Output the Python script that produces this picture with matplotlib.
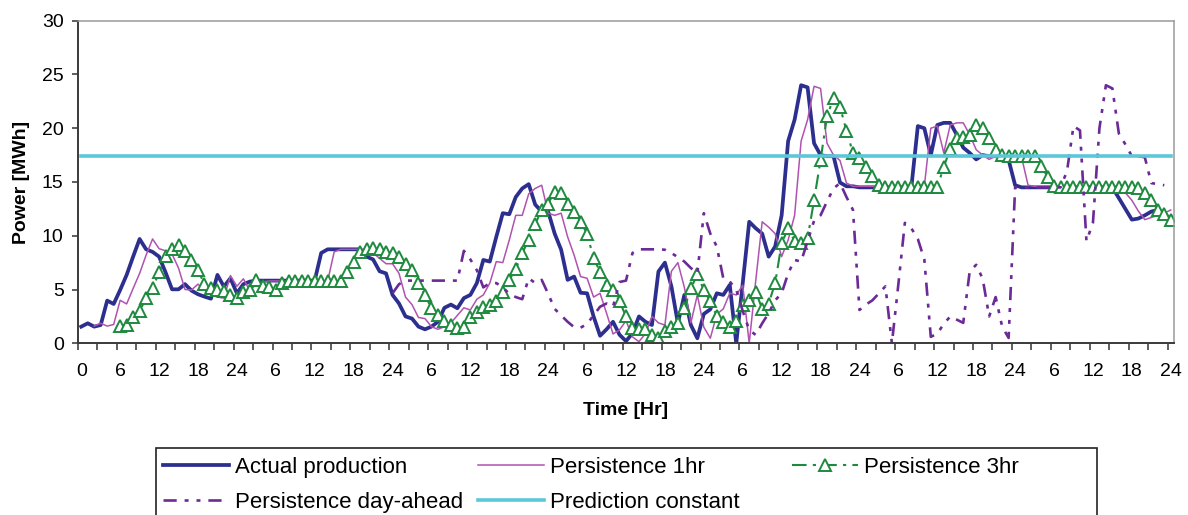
import matplotlib
matplotlib.use("Agg")
import matplotlib.pyplot as plt
from matplotlib.patches import Rectangle

plt.rcParams["font.family"] = ["Liberation Sans", "DejaVu Sans"]

# hourly values, one list per series
actual_start = 0
actual = [
    1.55, 1.86, 1.55, 1.7, 3.97, 3.66, 4.96, 6.36, 8.06, 9.7,
    8.74, 8.5, 8.06, 6.6, 5.02, 5.02, 5.5, 4.9, 4.56, 4.34,
    4.15, 6.36, 5.27, 6.05, 4.65, 5.5, 5.74, 5.83,
] + [5.83] * 9 + [8.4] + [8.74] * 6 + [
    8.06, 7.8, 6.7, 6.5, 4.5, 3.7, 2.5, 2.3, 1.55, 1.3,
    1.55, 2.0, 3.3, 3.6, 3.26, 4.2, 4.5, 5.6, 7.75, 7.6,
    9.9, 12.1, 12.0, 13.6, 14.4, 14.8, 12.9, 12.25, 12.25, 10.2,
    8.7, 5.9, 6.2, 4.7, 4.65, 2.5, 0.7, 1.3, 2.0, 0.8,
    0.2, 0.93, 2.5, 2.0, 1.7, 6.67, 7.5, 5.3, 1.86, 4.5,
    1.7, 0.47, 2.73, 3.16, 4.65, 4.5, 5.43, 0.0, 5.6, 11.3,
    10.7, 10.2, 8.06, 9.0, 11.9, 18.8, 20.8, 24.0, 23.8, 18.6,
    17.5, 17.4, 17.4, 14.95, 14.6, 14.6,
] + [14.5] * 9 + [
    20.2, 20.0, 17.5, 20.3, 20.5, 20.5, 19.4, 18.2, 17.7, 17.1,
    17.5, 17.4, 17.4, 17.3, 17.05, 14.7,
] + [14.5] * 15 + [13.5, 12.5, 11.5, 11.6, 11.9, 12.25, 12.4, 12.1, 11.5]

p1_start = 2
persistence_1hr = [
    1.6, 1.86, 1.6, 1.75, 4.0, 3.66, 5.1, 6.5, 8.2, 9.7,
    8.8, 8.6, 8.3, 7.0, 5.0, 4.96, 5.5, 4.96, 4.5, 4.3,
    4.2, 6.3, 5.3, 6.0, 4.9, 5.5, 5.7,
] + [5.8] * 10 + [8.5] + [8.74] * 5 + [
    8.4, 7.9, 7.4, 7.4, 6.5, 4.3, 3.6, 2.4, 2.3, 1.55,
    1.3, 1.55, 1.9, 2.6, 3.3, 3.1, 4.1, 4.5, 5.6, 7.6,
    7.5, 9.6, 11.9, 11.9, 13.9, 14.4, 14.7, 12.1, 11.9, 12.1,
    9.9, 8.2, 6.2, 6.05, 4.3, 4.65, 2.8, 0.87, 1.24, 2.1,
    0.6, 0.15, 0.9, 2.5, 1.9, 1.7, 6.7, 7.5, 5.2, 1.9,
    4.5, 1.5, 0.47, 2.7, 3.2, 4.65, 4.5, 5.4, 0.0, 5.8,
    11.3, 10.8, 10.2, 8.06, 9.6, 11.9, 18.8, 20.8, 23.9, 23.7,
    18.6, 17.5, 17.0, 14.9,
] + [14.6] * 12 + [
    20.0, 20.2, 17.7, 20.3, 20.5, 20.5, 19.4, 18.0, 17.5, 17.1,
    17.4, 17.4, 17.4, 17.3, 17.3, 14.7,
] + [14.6] * 14 + [14.0, 13.3, 12.3, 11.5, 11.7, 11.9, 12.1, 12.4]

p3_start = 6
persistence_3hr = [
    1.64, 1.7, 2.4, 3.0, 4.2, 5.1, 6.6, 8.1, 8.8, 9.1,
    8.6, 7.75, 6.8, 5.5, 5.1, 5.0, 4.9, 4.5, 4.25, 4.8,
    5.0, 5.9, 5.3, 5.27, 5.0, 5.6,
] + [5.8] * 9 + [
    6.67, 7.6, 8.5, 8.74, 8.84, 8.74, 8.5, 8.43, 8.06, 7.4,
    6.8, 5.64, 4.5, 3.26, 2.6, 2.1, 1.7, 1.4, 1.55, 2.4,
    2.9, 3.35, 3.57, 3.9, 4.8, 5.9, 6.9, 8.4, 9.6, 11.1,
    12.4, 13.0, 14.1, 14.0, 13.0, 12.25, 11.3, 10.2, 7.9, 6.67,
    5.4, 5.0, 3.9, 2.5, 1.4, 1.3, 1.3, 0.78, 0.47, 1.1,
    1.55, 1.86, 3.26, 5.1, 6.4, 4.96, 3.9, 2.54, 2.0, 1.55,
    2.1, 3.57, 4.0, 4.8, 3.2, 3.7, 5.6, 9.3, 10.7, 9.5,
    9.3, 9.8, 13.3, 17.05, 21.1, 22.8, 22.0, 19.75, 17.7, 17.2,
    16.4, 15.6, 14.7,
] + [14.5] * 9 + [
    16.4, 18.1, 19.1, 19.2, 19.4, 20.3, 20.0, 19.1, 18.0, 17.5,
    17.4,
] + [17.4] * 4 + [16.5, 15.5, 14.6] + [14.5] * 12 + [
    14.4, 14.0, 13.3, 12.4, 12.0, 11.5,
]

da_start = 48
persistence_day_ahead = [4.65, 5.5] + [5.83] * 9 + [
    8.6, 7.8, 6.8, 5.2, 5.6, 5.6, 5.2, 4.6, 4.3, 4.1,
    6.05, 5.6, 5.9, 4.6, 3.2, 2.6, 2.0, 1.5, 1.45, 1.8,
    2.6, 3.4, 3.7, 3.4, 5.7, 5.83, 8.4,
] + [8.74] * 4 + [
    8.7, 8.4, 8.0, 7.6, 7.0, 6.5, 12.1, 10.2, 9.0, 6.05,
    5.74, 5.0, 3.0, 1.24, 0.78, 1.86, 2.8, 4.0, 4.65, 6.5,
    7.75, 7.6, 9.5, 11.4, 11.9, 13.2, 14.4, 14.9, 13.6, 12.4,
    3.1, 3.6, 4.0, 4.65, 5.3, 0.0, 5.5, 11.2, 10.7, 9.7,
    7.8, 0.6, 0.9, 1.8, 2.5, 2.2, 1.9, 6.7, 7.3, 6.0,
    2.5, 4.3, 1.55, 0.5,
] + [14.5] * 8 + [
    16.0, 20.2, 19.8, 9.5, 11.2, 20.0, 24.0, 23.7, 19.5, 18.5,
    17.4, 17.4, 17.3, 14.9, 14.8, 14.7,
]

prediction_constant = [17.45] * 169

n_hours = 168
tick_labels = [str(h % 24) if (h % 24 or h == 0) else "24" for h in range(0, n_hours + 1, 6)]


def hours_for(start, values):
    return list(range(start, start + len(values)))


W, H = 1188, 515
fig = plt.figure(figsize=(W / 100, H / 100), dpi=100)
ax = fig.add_axes([78 / W, 1 - 343.3 / H, 1096 / W, 322.6 / H])

navy = "#2c2f8e"
plum = "#b053b0"
green = "#1d8a3e"
purple = "#6b2a96"
cyan = "#5cc7d8"

l_act, = ax.plot(hours_for(actual_start, actual), actual, color=navy, lw=2.7)
l_p1, = ax.plot(hours_for(p1_start, persistence_1hr), persistence_1hr, color=plum, lw=1.1)
l_p3, = ax.plot(hours_for(p3_start, persistence_3hr), persistence_3hr, color=green, lw=1.5,
                dashes=(7, 3, 1.5, 3), marker="^", ms=8, mfc="white", mec=green, mew=1.4)
l_da, = ax.plot(hours_for(da_start, persistence_day_ahead), persistence_day_ahead, color=purple,
                lw=1.9, dashes=(5, 3, 1.5, 3, 1.5, 3))
l_pc, = ax.plot(hours_for(0, prediction_constant), prediction_constant, color=cyan, lw=2.6)

ax.set_xlim(-0.5, n_hours + 0.5)
ax.set_ylim(0, 30)
ax.set_yticks(range(0, 31, 5))
ax.set_xticks(range(0, n_hours + 1, 6))
ax.set_xticklabels(tick_labels)
ax.set_xticks([k * 3 - 0.5 for k in range(57)], minor=True)
ax.tick_params(axis="x", which="major", length=0, pad=14, labelsize=14)
ax.tick_params(axis="x", which="minor", length=4.7, width=1.1, color="#333333", direction="out")
ax.tick_params(axis="y", length=4.3, width=1.1, color="#333333", pad=6, labelsize=14)

for side in ["left", "bottom"]:
    ax.spines[side].set_color("#3a3a3a")
    ax.spines[side].set_linewidth(1.4)
for side in ["top", "right"]:
    ax.spines[side].set_color("#9a9a9a")
    ax.spines[side].set_linewidth(1.1)

ax.set_xlabel("Time [Hr]", fontsize=14, fontweight="bold")
ax.xaxis.set_label_coords(0.5, -(402 - 343.3) / 322.6)
ax.xaxis.label.set_va("top")
ax.set_ylabel("Power [MWh]", fontsize=14, fontweight="bold")
ax.yaxis.set_label_coords(-(78 - 30) / 1096, 0.5)

# legend: Excel-style box cut off by the bottom edge, three columns
fig.add_artist(Rectangle((156 / W, -0.1), (1097 - 156) / W, 0.1 + 1 - 447.7 / H,
                         transform=fig.transFigure, fill=False, edgecolor="#222222", lw=1.2))
columns = [([l_act, l_da], ["Actual production", "Persistence day-ahead"], 163),
           ([l_p1, l_pc], ["Persistence 1hr", "Prediction constant"], 478),
           ([l_p3], ["Persistence 3hr"], 792)]
for handles, labels, x0 in columns:
    fig.legend(handles, labels, loc="upper left", bbox_to_anchor=(x0 / W, 1 - 457 / H),
               frameon=False, fontsize=16, borderpad=0, borderaxespad=0,
               handlelength=2.97, handletextpad=0.25, labelspacing=0.63, numpoints=1)

fig.savefig("out.png", dpi=100)
